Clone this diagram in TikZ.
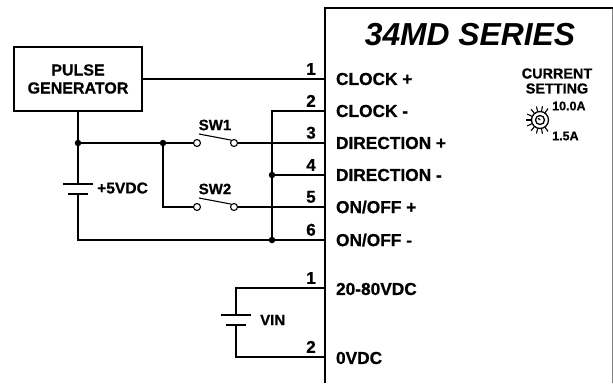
\documentclass[tikz,border=0pt]{standalone}
\usepackage{fontspec}
\setmainfont{Liberation Sans}[BoldFeatures={FakeBold=0.8}]
\usepackage{tikz}

\tikzset{
	wire/.style={line width=1.1pt},
	heavy/.style={line width=2.6pt},
	dot/.style={circle, fill=black, inner sep=0pt, minimum size=6.5pt},
	terminal/.style={circle, draw, line width=1.1pt, fill=white, inner sep=0pt, minimum size=7pt},
	pinname/.style={anchor=west, font=\fontsize{17.3}{17.3}\selectfont\bfseries},
	pinnum/.style={anchor=south, font=\fontsize{17}{17}\selectfont\bfseries, inner sep=4pt},
	lbl/.style={font=\fontsize{15}{15}\selectfont\bfseries, inner sep=0pt},
	small/.style={font=\fontsize{14.4}{15}\selectfont\bfseries, inner sep=0pt, align=center},
	tiny/.style={font=\fontsize{12.5}{12.5}\selectfont\bfseries, inner sep=0pt, anchor=west}
}

\begin{document}
\begin{tikzpicture}[x=1pt, y=-1pt]

	\useasboundingbox (0,0) rectangle (613,383);

	% driver outline
	\draw[gray, line width=0.8pt] (612,8) -- (612,383);
	\draw[heavy] (325,383) -- (325,8) -- (613,8);
	\node[font=\fontsize{31.8}{32}\selectfont\bfseries\itshape, inner sep=0pt] (title) at (470,35) {34MD SERIES};

	% pins on the driver
	\foreach \n/\y/\t in {1/79/{CLOCK +}, 2/111/{CLOCK -}, 3/143/{DIRECTION +}, 4/175/{DIRECTION -}, 5/207/{ON/OFF +}, 6/240/{ON/OFF -}} {
		\coordinate (pin\n) at (325,\y);
		\node[pinnum] (num\n) at (311,\y) {\n};
		\node[pinname] (name\n) at (332.5,\y) {\t};
	}
	\coordinate (vinp) at (325,288);
	\coordinate (vinn) at (325,357);
	\node[pinnum] (nump) at (311,288) {1};
	\node[pinnum] (numn) at (311,357) {2};
	\node[pinname] (namep) at (332.5,289) {20-80VDC};
	\node[pinname] (namen) at (332.5,358) {0VDC};

	% pulse generator
	\node[draw, heavy, minimum width=128pt, minimum height=64pt, align=center, inner sep=0pt,
		font=\fontsize{16}{18}\selectfont\bfseries] (pulse) at (78,79) {PULSE\\GENERATOR};
	\draw[wire] (pulse.east |- pin1) -- (pin1);

	% 5V supply
	\node[dot] (top) at (78,143) {};
	\node[dot] (split) at (163,143) {};
	\coordinate (plus) at (78,184);
	\coordinate (minus) at (78,194);
	\node[dot] (ret) at (272,240) {};
	\node[dot] (mid) at (272,175) {};
	\draw[wire] (pulse.south -| top) -- (top) -- (split);
	\draw[wire] (top) -- (plus);
	\draw[wire] (minus) -- (78,240) -- (ret) -- (pin6);
	\draw[line width=2pt] (63,184) -- (93,184);
	\draw[wire] (68,194) -- (88,194);
	\node[lbl, anchor=west, font=\fontsize{15.6}{15.6}\selectfont\bfseries] (five) at (97,188) {+5VDC};

	% switches
	\node[terminal] (sw1a) at (197,143) {};
	\node[terminal] (sw1b) at (234,143) {};
	\node[terminal] (sw2a) at (197,207) {};
	\node[terminal] (sw2b) at (234,207) {};
	\draw[wire] (split) -- (sw1a);
	\draw[wire] (sw1b) -- (pin3);
	\draw[wire] (split) |- (sw2a);
	\draw[wire] (sw2b) -- (pin5);
	\draw[wire] (sw1a) ++(2,-9) -- (sw1b.north west);
	\draw[wire] (sw2a) ++(2,-9) -- (sw2b.north west);
	\node[lbl] (sw1) at (215,125) {SW1};
	\node[lbl] (sw2) at (215,189) {SW2};

	% common line
	\draw[wire] (pin2) -- (272,111) -- (ret);
	\draw[wire] (mid) -- (pin4);

	% VIN
	\coordinate (vplus) at (236,315);
	\coordinate (vminus) at (236,325);
	\draw[wire] (vinp) -- (236,288) -- (vplus);
	\draw[wire] (vinn) -- (236,357) -- (vminus);
	\draw[line width=2pt] (221,315) -- (251,315);
	\draw[wire] (226,325) -- (246,325);
	\node[lbl, anchor=west] (vin) at (260,320) {VIN};

	% current setting
	\node[small] (setting) at (557,81) {CURRENT\\SETTING};
	\node[tiny] (hi) at (552,106) {10.0A};
	\node[tiny] (lo) at (552,136) {1.5A};
	\node[circle, draw, line width=1.3pt, inner sep=0pt, minimum size=17pt] (knob) at (540,120) {};
	\node[circle, draw, line width=1.3pt, inner sep=0pt, minimum size=9pt] at (knob) {};
	\foreach \a in {55,80,...,305}
		\draw[line width=1.1pt] (knob.center) ++(\a:9) -- ++(\a:5);
	\draw[line width=1.4pt] (knob.center) -- ++(-135:2.5);

\end{tikzpicture}
\end{document}
